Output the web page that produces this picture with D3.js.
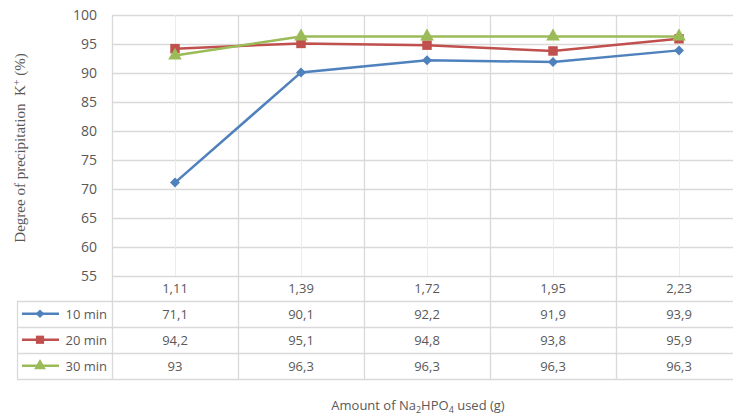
<!DOCTYPE html>
<html>
<head>
<meta charset="utf-8">
<script src="https://cdn.jsdelivr.net/npm/d3@7"></script>
<style>
  body { margin: 0; background: #fff; }
  svg { display: block; overflow: hidden; }
</style>
</head>
<body>
<script>
// data
var categories = ["1,11", "1,39", "1,72", "1,95", "2,23"];
var min10 = [71.1, 90.1, 92.2, 91.9, 93.9];
var min20 = [94.2, 95.1, 94.8, 93.8, 95.9];
var min30 = [93, 96.3, 96.3, 96.3, 96.3];
var seriesNames = ["10 min", "20 min", "30 min"];
var yTicks = [55, 60, 65, 70, 75, 80, 85, 90, 95, 100];

var series = [
    { name: seriesNames[0], values: min10, color: "#4f81bd", shape: d3.symbolSquare, rot: 45, size: 50 },
    { name: seriesNames[1], values: min20, color: "#c0504d", shape: d3.symbolSquare, rot: 0, size: 90 },
    { name: seriesNames[2], values: min30, color: "#9bbb59", shape: d3.symbolTriangle, rot: 0, size: 80 }
];

var width = 733, height = 416;
var plotLeft = 112, plotRight = 742, plotTop = 15, plotBottom = 276;
var rowH = [24.5, 26.5, 25.5, 26.5]; // category row + 3 series rows
var gridColor = "#d9d9d9", textColor = "#595959";
var font = "'Open Sans', 'Liberation Sans', sans-serif";

var svg = d3.select("body").append("svg")
    .attr("width", width)
    .attr("height", height);

var x = d3.scaleBand().domain(categories).range([plotLeft, plotRight]);
var y = d3.scaleLinear().domain([55, 100]).range([plotBottom, plotTop]);

function cx(i) { return x(categories[i]) + x.bandwidth() / 2; }

// horizontal grid lines
svg.append("g").selectAll("line")
    .data(yTicks).enter()
    .append("line")
    .attr("x1", plotLeft).attr("x2", plotRight)
    .attr("y1", function(d) { return Math.round(y(d)) + 0.5; })
    .attr("y2", function(d) { return Math.round(y(d)) + 0.5; })
    .attr("stroke", gridColor).attr("stroke-width", 1.3);

// vertical grid lines - centers lighter, boundaries darker
svg.append("g").selectAll("line")
    .data(categories).enter()
    .append("line")
    .attr("x1", function(d, i) { return Math.round(cx(i)) + 0.5; })
    .attr("x2", function(d, i) { return Math.round(cx(i)) + 0.5; })
    .attr("y1", plotTop).attr("y2", plotBottom)
    .attr("stroke", "#ececec");

var rowY = [plotBottom];
rowH.forEach(function(h, i) { rowY.push(rowY[i] + h); });
var tableBottom = rowY[rowY.length - 1];

svg.append("g").selectAll("line")
    .data(categories).enter()
    .append("line")
    .attr("x1", function(d) { return Math.round(x(d)) + 0.5; })
    .attr("x2", function(d) { return Math.round(x(d)) + 0.5; })
    .attr("y1", plotTop).attr("y2", tableBottom)
    .attr("stroke", gridColor).attr("stroke-width", 1.3);

// table horizontal lines
svg.append("g").selectAll("line")
    .data(rowY.slice(1)).enter()
    .append("line")
    .attr("x1", 17).attr("x2", plotRight)
    .attr("y1", function(d) { return Math.round(d) + 0.5; })
    .attr("y2", function(d) { return Math.round(d) + 0.5; })
    .attr("stroke", gridColor).attr("stroke-width", 1.3);

// legend column left border
svg.append("line")
    .attr("x1", 17.5).attr("x2", 17.5)
    .attr("y1", Math.round(rowY[1]) + 0.5).attr("y2", Math.round(tableBottom) + 0.5)
    .attr("stroke", gridColor).attr("stroke-width", 1.3);

// y tick labels
svg.append("g").selectAll("text")
    .data(yTicks).enter()
    .append("text")
    .attr("x", 97)
    .attr("y", function(d) { return y(d) + 5; })
    .attr("text-anchor", "end")
    .attr("font-family", font).attr("font-size", 14)
    .attr("fill", textColor)
    .text(function(d) { return d; });

// category labels
svg.append("g").selectAll("text")
    .data(categories).enter()
    .append("text")
    .attr("x", function(d, i) { return cx(i); })
    .attr("y", (rowY[0] + rowY[1]) / 2 + 5)
    .attr("text-anchor", "middle")
    .attr("font-family", font).attr("font-size", 13)
    .attr("fill", textColor)
    .text(function(d) { return d; });

// lines and markers
var line = d3.line()
    .x(function(d, i) { return cx(i); })
    .y(function(d) { return y(d); });

series.forEach(function(s, si) {
    svg.append("path")
        .attr("d", line(s.values))
        .attr("fill", "none")
        .attr("stroke", s.color)
        .attr("stroke-width", 2.5);

    svg.append("g").selectAll("path")
        .data(s.values).enter()
        .append("path")
        .attr("d", d3.symbol().type(s.shape).size(s.size))
        .attr("transform", function(d, i) {
            return "translate(" + cx(i) + "," + y(d) + ") rotate(" + s.rot + ")";
        })
        .attr("fill", s.color);

    // table row
    var cy = (rowY[si + 1] + rowY[si + 2]) / 2;
    svg.append("g").selectAll("text")
        .data(s.values).enter()
        .append("text")
        .attr("x", function(d, i) { return cx(i); })
        .attr("y", cy + 5)
        .attr("text-anchor", "middle")
        .attr("font-family", font).attr("font-size", 13)
        .attr("fill", textColor)
        .text(function(d) { return String(d).replace(".", ","); });

    // legend key
    svg.append("line")
        .attr("x1", 22).attr("x2", 59)
        .attr("y1", cy).attr("y2", cy)
        .attr("stroke", s.color).attr("stroke-width", 2.5);
    svg.append("path")
        .attr("d", d3.symbol().type(s.shape).size(s.size * 0.75))
        .attr("transform", "translate(40," + cy + ") rotate(" + s.rot + ")")
        .attr("fill", s.color);
    svg.append("text")
        .attr("x", 107).attr("y", cy + 5)
        .attr("text-anchor", "end")
        .attr("font-family", font).attr("font-size", 13)
        .attr("fill", textColor)
        .text(s.name);
});

// y axis title
svg.append("text")
    .attr("transform", "translate(25,148) rotate(-90)")
    .attr("text-anchor", "middle")
    .attr("font-family", "'Liberation Serif', 'DejaVu Serif', serif")
    .attr("font-size", 15)
    .attr("fill", textColor)
    .html("Degree of precipitation&#160;&#160;K<tspan dy='-5' font-size='10'>+</tspan><tspan dy='5'> (%)</tspan>");

// x axis title
svg.append("text")
    .attr("x", 418).attr("y", 410)
    .attr("text-anchor", "middle")
    .attr("font-family", font).attr("font-size", 13)
    .attr("fill", textColor)
    .html("Amount of Na<tspan dy='3' font-size='9'>2</tspan><tspan dy='-3'>HPO</tspan><tspan dy='3' font-size='9'>4</tspan><tspan dy='-3'> used (g)</tspan>");
</script>
</body>
</html>
